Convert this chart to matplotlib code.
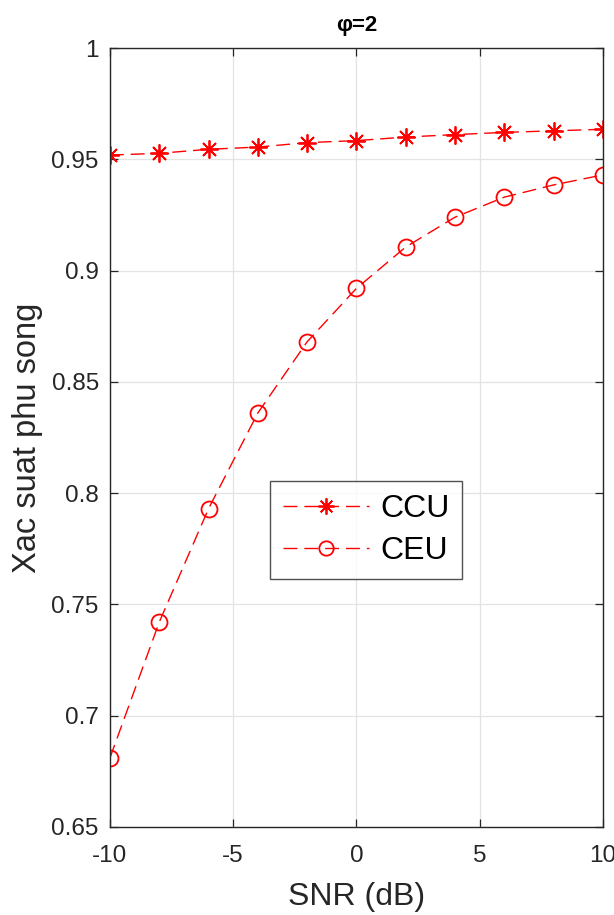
import matplotlib
matplotlib.use("Agg")
import matplotlib.pyplot as plt
from matplotlib.ticker import FormatStrFormatter

plt.rcParams["font.family"] = ["Liberation Sans", "DejaVu Sans"]
plt.rcParams["axes.unicode_minus"] = False

# ==============================
# Data
# ==============================
snr_db = [-10, -8, -6, -4, -2, 0, 2, 4, 6, 8, 10]
ccu = [0.9519, 0.9527, 0.9545, 0.9555, 0.9575, 0.9584, 0.9600, 0.9611, 0.9621, 0.9628, 0.9635]
ceu = [0.681, 0.742, 0.793, 0.836, 0.868, 0.892, 0.9106, 0.924, 0.933, 0.9385, 0.943]

x_ticks = [-10, -5, 0, 5, 10]
y_ticks = [0.65, 0.7, 0.75, 0.8, 0.85, 0.9, 0.95, 1.0]

axis_color = "#262626"

# ==============================
# Plot
# ==============================
fig = plt.figure(figsize=(6.14, 9.15), dpi=100)
ax = fig.add_axes([0.179, 0.0962, 0.803, 0.8513])

ax.plot(snr_db, ccu, color="red", lw=1.0, dashes=(10, 5),
        marker=(8, 2, 0), markersize=13, markeredgewidth=1.3, label="CCU")
ax.plot(snr_db, ceu, color="red", lw=1.0, dashes=(10, 5),
        marker="o", markersize=11.5, markerfacecolor="none", markeredgewidth=1.3, label="CEU")

ax.set_xlim(-10, 10)
ax.set_ylim(0.65, 1.0)
ax.set_xticks(x_ticks)
ax.set_yticks(y_ticks)
ax.yaxis.set_major_formatter(FormatStrFormatter("%g"))

ax.grid(True, color="#e3e3e3", lw=0.9)
ax.set_axisbelow(True)
ax.tick_params(direction="in", length=6, width=0.9, top=True, right=True,
               labelsize=17.5, colors=axis_color)
ax.tick_params(axis="x", pad=13)
ax.tick_params(axis="y", pad=8)
for s in ax.spines.values():
    s.set_color(axis_color)
    s.set_linewidth(1.0)

ax.set_xlabel("SNR (dB)", fontsize=23, color=axis_color, labelpad=11)
ax.set_ylabel("Xac suat phu song", fontsize=23.5, color=axis_color, labelpad=6)
ax.set_title("φ=2", fontsize=16, fontweight="bold", pad=12)

leg = ax.legend(loc="lower left", bbox_to_anchor=(0.3245, 0.318), borderaxespad=0,
                fontsize=23, frameon=True, fancybox=False, edgecolor=axis_color,
                handlelength=2.7, borderpad=0.4, labelspacing=0.4, handletextpad=0.35,
                markerscale=0.9)
leg.get_frame().set_linewidth(1.0)

fig.savefig("out.png", dpi=100)
